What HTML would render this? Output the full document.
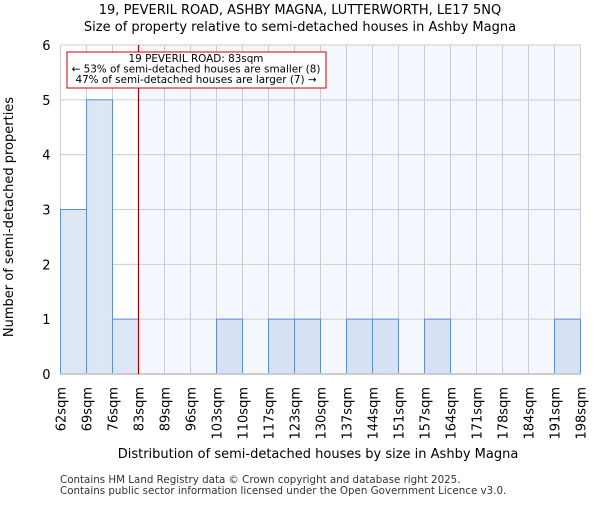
<!DOCTYPE html>
<html><head><meta charset="utf-8"><style>body{margin:0;background:#fff}svg{font-family:"DejaVu Sans","Liberation Sans",sans-serif}</style></head>
<body>
<svg id="c" width="600" height="500">
<text x="300" y="14" text-anchor="middle" font-size="13">19, PEVERIL ROAD, ASHBY MAGNA, LUTTERWORTH, LE17 5NQ</text>
<text x="300" y="31" text-anchor="middle" font-size="13">Size of property relative to semi-detached houses in Ashby Magna</text>
<g id="plot"></g>
<text x="318" y="458" text-anchor="middle" font-size="13">Distribution of semi-detached houses by size in Ashby Magna</text>
<text transform="translate(13,217) rotate(-90)" text-anchor="middle" font-size="13">Number of semi-detached properties</text>
<text x="60" y="483" font-size="10.3" fill="#333">Contains HM Land Registry data © Crown copyright and database right 2025.</text>
<text x="60" y="494" font-size="10.3" fill="#333">Contains public sector information licensed under the Open Government Licence v3.0.</text>
</svg>
<script>
const categories=["62sqm","69sqm","76sqm","83sqm","89sqm","96sqm","103sqm","110sqm","117sqm","123sqm","130sqm","137sqm","144sqm","151sqm","157sqm","164sqm","171sqm","178sqm","184sqm","191sqm","198sqm"];
const counts=[3,5,1,0,0,0,1,0,1,1,0,1,1,0,1,0,0,0,0,1];
const yTicks=[0,1,2,3,4,5,6];
const markerBin=3;
const NS="http://www.w3.org/2000/svg";
const g=document.getElementById('plot');
const X0=60.5,BW=26,Y0=374,Y1=45,YMAX=6;
const xs=i=>X0+i*BW, ys=v=>Y0-(Y0-Y1)*v/YMAX;
const X1=xs(counts.length);
function el(t,a,p){const e=document.createElementNS(NS,t);for(const k in a)e.setAttribute(k,a[k]);(p||g).appendChild(e);return e;}
const mx=xs(markerBin);
let e=el('rect',{x:X0,y:Y1,width:mx-X0,height:Y0-Y1,fill:'#ffffff'});


e=el('rect',{x:mx,y:Y1,width:X1-mx,height:Y0-Y1,fill:'#f4f7fe'});


yTicks.forEach(v=>{
 e=el('line',{x1:X0,x2:X1,y1:ys(v),y2:ys(v),stroke:'#cccccc'});
 
 
 e=el('text',{x:X0-10,y:ys(v)+5,'text-anchor':'end','font-size':13});
 e.textContent=v;
 
 
});
categories.forEach((c,i)=>{
 e=el('line',{x1:xs(i),x2:xs(i),y1:Y1,y2:Y0,stroke:'#cccccc'});
 
 
 e=el('text',{transform:`translate(${xs(i)+5},387) rotate(-90)`,'text-anchor':'end','font-size':13});
 e.textContent=c;
 
 
});
counts.forEach((v,i)=>{
 if(v<=0)return;
 e=el('rect',{x:xs(i),y:ys(v),width:BW,height:Y0-ys(v),fill:i<markerBin?'#dde7f3':'#d6e2f4',stroke:'#5b8fd6','stroke-width':1});
 
 
});
e=el('line',{x1:X0,x2:X1,y1:Y0,y2:Y0,stroke:'#cccccc','stroke-width':2});


e=el('line',{x1:mx,x2:mx,y1:Y1,y2:Y0,stroke:'#aa0000','stroke-width':1.2});


e=el('rect',{x:67,y:52,width:259,height:36,fill:'#fff',stroke:'#cc0000'});


["19 PEVERIL ROAD: 83sqm","← 53% of semi-detached houses are smaller (8)","47% of semi-detached houses are larger (7) →"].forEach((t,i)=>{
 e=el('text',{x:196,y:62+i*10.5,'text-anchor':'middle','font-size':10.4});
 e.textContent=t;
 
 
});
</script>
</body></html>
